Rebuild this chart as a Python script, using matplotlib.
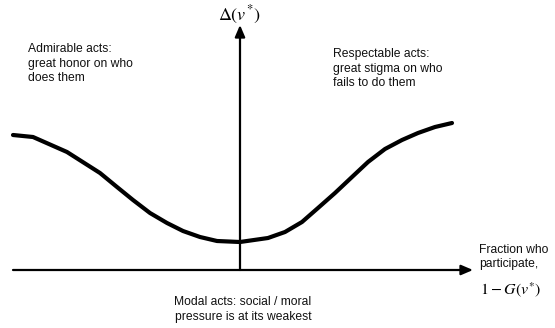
import matplotlib
matplotlib.use("Agg")
import matplotlib.pyplot as plt

# curve (x: participation axis, y: Delta(v*))
curve_x = [-2.27, -2.07, -1.73, -1.40, -1.23, -1.07, -0.90, -0.73, -0.57, -0.40, -0.23, 0.00,
           0.28, 0.45, 0.62, 0.78, 0.95, 1.12, 1.28, 1.45, 1.62, 1.78, 1.95, 2.12]
curve_y = [1.35, 1.33, 1.18, 0.97, 0.83, 0.70, 0.57, 0.47, 0.39, 0.33, 0.29, 0.28,
           0.32, 0.38, 0.48, 0.62, 0.77, 0.93, 1.08, 1.21, 1.30, 1.37, 1.43, 1.47]

# axis extents
x_axis = [-2.27, 2.33]
y_axis = [0.0, 2.45]

label_admirable = "Admirable acts:\ngreat honor on who\ndoes them"
label_respectable = "Respectable acts:\ngreat stigma on who\nfails to do them"
label_modal = "Modal acts: social / moral\npressure is at its weakest"
label_fraction = "Fraction who\nparticipate,"

plt.rcParams['font.family'] = ['Liberation Sans', 'DejaVu Sans']
plt.rcParams['mathtext.fontset'] = 'stix'

fig = plt.figure(figsize=(5.55, 3.28), dpi=100)
ax = fig.add_axes([0, 0, 1, 1])
ax.set_xlim(-2.40, 3.15)
ax.set_ylim(-0.58, 2.70)
ax.axis('off')

arrow = dict(arrowstyle='-|>,head_length=0.7,head_width=0.3', color='black',
             lw=1.6, shrinkA=0, shrinkB=0)
ax.annotate('', xy=(x_axis[1], 0), xytext=(x_axis[0], 0), arrowprops=arrow)
ax.annotate('', xy=(0, y_axis[1]), xytext=(0, y_axis[0]), arrowprops=arrow)

ax.plot(curve_x, curve_y, color='black', lw=3, solid_capstyle='round',
        solid_joinstyle='round')

fs = 8.7
fig.text(28 / 555, 1 - 43 / 328, label_admirable, fontsize=fs, va='top', ha='left',
         linespacing=1.3, color='#111111')
fig.text(333 / 555, 1 - 48 / 328, label_respectable, fontsize=fs, va='top', ha='left',
         linespacing=1.3, color='#111111')
fig.text(243 / 555, 1 - 296 / 328, label_modal, fontsize=fs, va='top', ha='center',
         linespacing=1.3, color='#111111')
fig.text(479 / 555, 1 - 244 / 328, label_fraction, fontsize=fs, va='top', ha='left',
         linespacing=1.2, color='#111111')
fig.text(480 / 555, 1 - 290 / 328, r'$1-G(v^{*})$', fontsize=11.5, va='center', ha='left')
fig.text(239 / 555, 1 - 15 / 328, r'$\Delta(v^{*})$', fontsize=13, va='center', ha='center')

fig.savefig('out.png', dpi=100)
